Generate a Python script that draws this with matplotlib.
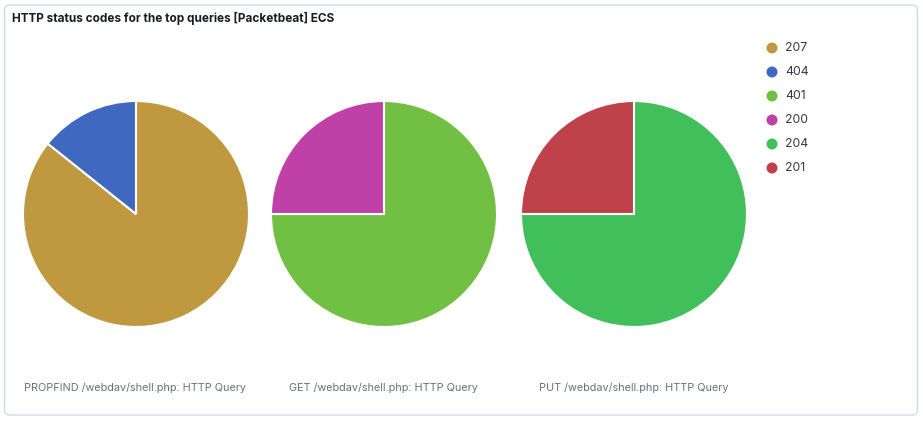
import matplotlib
matplotlib.use("Agg")
import matplotlib.pyplot as plt
from matplotlib.patches import FancyBboxPatch, Circle

title = "HTTP status codes for the top queries [Packetbeat] ECS"
pie_labels = ["PROPFIND /webdav/shell.php: HTTP Query",
              "GET /webdav/shell.php: HTTP Query",
              "PUT /webdav/shell.php: HTTP Query"]
pie_codes = [["207", "404"], ["401", "200"], ["204", "201"]]
pie_values = [[6, 1], [3, 1], [3, 1]]
legend_codes = ["207", "404", "401", "200", "204", "201"]
code_colors = {"207": "#C0983F", "404": "#3F68C0", "401": "#71BF43",
               "200": "#BF41A8", "204": "#41BF5A", "201": "#BF424A"}

W, H = 923, 421
fig = plt.figure(figsize=(W / 100, H / 100), dpi=100)
fig.patch.set_facecolor("white")

# background axes in pixel coordinates
bg = fig.add_axes([0, 0, 1, 1], zorder=-1)
bg.set_xlim(0, W)
bg.set_ylim(H, 0)
bg.axis("off")
bg.add_patch(FancyBboxPatch((4.5, 5), 913, 410,
                            boxstyle="round,pad=0,rounding_size=5",
                            facecolor="white", edgecolor="#D3DAE6", linewidth=1.0))

font = "Inter"
bg.text(12, 18, title, fontsize=8.5, fontweight="bold",
        color="#1a1c21", family=font, va="center", ha="left")

centers = [136, 384, 634]
r = 113
for cx, codes, vals, lab, lx in zip(centers, pie_codes, pie_values, pie_labels, [24, 289, 539]):
    ax = fig.add_axes([(cx - r) / W, 1 - (214 + r) / H, 2 * r / W, 2 * r / H], zorder=1)
    ax.pie(vals, colors=[code_colors[c] for c in codes], startangle=90,
           counterclock=False, radius=1.0,
           wedgeprops=dict(edgecolor="white", linewidth=1.5))
    ax.set_xlim(-1.0, 1.0)
    ax.set_ylim(-1.0, 1.0)
    ax.set_aspect("auto")
    ax.axis("off")
    bg.text(lx, 388, lab, fontsize=7.8, color="#69707D",
            family=font, va="center", ha="left")

# legend
for i, code in enumerate(legend_codes):
    y = 48 + 24 * i
    bg.add_patch(Circle((772, y), 5.5, facecolor=code_colors[code], edgecolor="none"))
    bg.text(785, y, code, fontsize=8.8, color="#343741",
            family=font, va="center", ha="left")

fig.savefig("out.png", dpi=100)
